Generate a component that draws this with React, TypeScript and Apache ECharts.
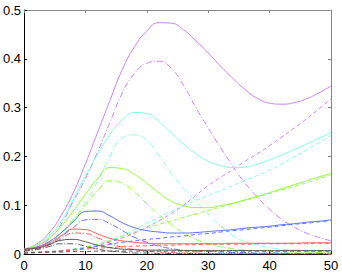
import React, { useEffect, useRef } from "react";
import * as echarts from "echarts";

const xs = [0, 2, 4, 6, 8, 10, 12, 14, 16, 18, 20, 22, 24, 26, 28, 30, 32, 34, 36, 38, 40, 42, 44, 46, 48, 50];

const purpleSolid = [0.010, 0.020, 0.042, 0.078, 0.125, 0.185, 0.250, 0.315, 0.378, 0.425, 0.457, 0.474, 0.473, 0.459, 0.437, 0.412, 0.385, 0.360, 0.337, 0.319, 0.309, 0.307, 0.310, 0.318, 0.330, 0.344];
const purpleDashDot = [0.007, 0.014, 0.030, 0.060, 0.108, 0.155, 0.210, 0.270, 0.330, 0.370, 0.391, 0.395, 0.380, 0.345, 0.300, 0.258, 0.218, 0.180, 0.145, 0.117, 0.092, 0.071, 0.055, 0.043, 0.034, 0.027];
const purpleDashed = [0.003, 0.004, 0.005, 0.007, 0.010, 0.013, 0.018, 0.025, 0.033, 0.043, 0.055, 0.068, 0.083, 0.100, 0.120, 0.140, 0.157, 0.173, 0.190, 0.205, 0.222, 0.240, 0.258, 0.277, 0.297, 0.318];

const cyanSolid = [0.010, 0.018, 0.036, 0.066, 0.112, 0.160, 0.205, 0.245, 0.275, 0.290, 0.288, 0.271, 0.248, 0.225, 0.205, 0.190, 0.181, 0.177, 0.178, 0.184, 0.193, 0.203, 0.214, 0.225, 0.237, 0.249];
const cyanDashDot = [0.007, 0.012, 0.024, 0.043, 0.070, 0.105, 0.150, 0.200, 0.238, 0.244, 0.233, 0.202, 0.165, 0.135, 0.108, 0.082, 0.058, 0.038, 0.025, 0.018, 0.013, 0.010, 0.008, 0.007, 0.006, 0.005];
const cyanDashed = [0.003, 0.004, 0.005, 0.007, 0.010, 0.014, 0.020, 0.028, 0.038, 0.050, 0.063, 0.075, 0.087, 0.099, 0.110, 0.120, 0.130, 0.140, 0.151, 0.161, 0.172, 0.185, 0.199, 0.213, 0.228, 0.244];

const greenSolid = [0.010, 0.017, 0.032, 0.056, 0.088, 0.122, 0.155, 0.177, 0.175, 0.163, 0.145, 0.125, 0.108, 0.099, 0.095, 0.095, 0.099, 0.104, 0.111, 0.118, 0.126, 0.134, 0.142, 0.150, 0.158, 0.165];
const greenDashDot = [0.007, 0.012, 0.024, 0.043, 0.070, 0.100, 0.130, 0.150, 0.145, 0.127, 0.103, 0.080, 0.060, 0.043, 0.030, 0.021, 0.015, 0.011, 0.008, 0.007, 0.006, 0.005, 0.004, 0.004, 0.003, 0.003];
const greenDashed = [0.003, 0.004, 0.005, 0.007, 0.010, 0.014, 0.020, 0.027, 0.036, 0.045, 0.053, 0.061, 0.068, 0.075, 0.082, 0.089, 0.096, 0.103, 0.110, 0.117, 0.124, 0.131, 0.138, 0.146, 0.154, 0.162];

const blueSolid = [0.010, 0.014, 0.025, 0.043, 0.066, 0.087, 0.088, 0.078, 0.064, 0.054, 0.048, 0.045, 0.043, 0.043, 0.044, 0.046, 0.048, 0.050, 0.053, 0.055, 0.057, 0.060, 0.062, 0.065, 0.067, 0.070];
const blueDashDot = [0.007, 0.011, 0.020, 0.035, 0.054, 0.070, 0.071, 0.062, 0.048, 0.034, 0.024, 0.016, 0.011, 0.008, 0.006, 0.005, 0.004, 0.003, 0.003, 0.002, 0.002, 0.002, 0.001, 0.001, 0.001, 0.001];
const blueDashed = [0.002, 0.003, 0.004, 0.006, 0.009, 0.012, 0.016, 0.020, 0.024, 0.027, 0.030, 0.032, 0.035, 0.037, 0.040, 0.042, 0.045, 0.048, 0.050, 0.053, 0.055, 0.058, 0.061, 0.063, 0.066, 0.068];

const redSolid = [0.010, 0.013, 0.022, 0.037, 0.051, 0.050, 0.041, 0.032, 0.027, 0.024, 0.022, 0.021, 0.021, 0.021, 0.021, 0.021, 0.021, 0.022, 0.022, 0.022, 0.022, 0.022, 0.022, 0.023, 0.023, 0.023];
const redDashDot = [0.007, 0.010, 0.018, 0.031, 0.043, 0.042, 0.033, 0.022, 0.014, 0.009, 0.006, 0.004, 0.003, 0.002, 0.002, 0.001, 0.001, 0.001, 0.001, 0.001, 0.001, 0.001, 0.000, 0.000, 0.000, 0.000];
const redDashed = [0.002, 0.003, 0.004, 0.006, 0.008, 0.010, 0.012, 0.013, 0.015, 0.016, 0.017, 0.018, 0.018, 0.019, 0.019, 0.020, 0.020, 0.020, 0.020, 0.021, 0.021, 0.021, 0.021, 0.021, 0.022, 0.022];

const blackSolid = [0.010, 0.012, 0.019, 0.028, 0.030, 0.025, 0.018, 0.013, 0.010, 0.009, 0.008, 0.008, 0.008, 0.007, 0.007, 0.007, 0.007, 0.007, 0.007, 0.007, 0.007, 0.007, 0.007, 0.007, 0.007, 0.007];
const blackDashDot = [0.006, 0.009, 0.015, 0.021, 0.021, 0.016, 0.010, 0.006, 0.004, 0.002, 0.002, 0.001, 0.001, 0.001, 0.001, 0.000, 0.000, 0.000, 0.000, 0.000, 0.000, 0.000, 0.000, 0.000, 0.000, 0.000];
const blackDashed = [0.002, 0.003, 0.004, 0.004, 0.005, 0.005, 0.006, 0.006, 0.006, 0.006, 0.006, 0.006, 0.006, 0.006, 0.006, 0.006, 0.006, 0.006, 0.006, 0.006, 0.006, 0.006, 0.006, 0.006, 0.006, 0.006];

const xTicks = [0, 10, 20, 30, 40, 50];
const yTicks = [0, 0.1, 0.2, 0.3, 0.4, 0.5];

const groups = [
  { color: "#cc80ff", solid: purpleSolid, dashDot: purpleDashDot, dashed: purpleDashed },
  { color: "#80ffdc", solid: cyanSolid, dashDot: cyanDashDot, dashed: cyanDashed },
  { color: "#8cff33", solid: greenSolid, dashDot: greenDashDot, dashed: greenDashed },
  { color: "#5a6eff", solid: blueSolid, dashDot: blueDashDot, dashed: blueDashed },
  { color: "#ff5a5a", solid: redSolid, dashDot: redDashDot, dashed: redDashed },
  { color: "#555555", solid: blackSolid, dashDot: blackDashDot, dashed: blackDashed },
];

const pair = (ys: number[]) => xs.map((x, i) => [x, ys[i]]);

export default function App() {
  const ref = useRef<HTMLDivElement>(null);
  useEffect(() => {
    if (!ref.current) return;
    const chart = echarts.init(ref.current, null, { renderer: "svg" });
    const series: any[] = [];
    groups.forEach((g) => {
      const mk = (ys: number[], type: any) => ({
        type: "line",
        data: pair(ys),
        smooth: 0.5,
        showSymbol: false,
        symbol: "none",
        lineStyle: { color: g.color, width: 1, type },
        silent: true,
      });
      series.push(mk(g.solid, "solid"));
      series.push(mk(g.dashDot, [6, 2, 1, 2]));
      series.push(mk(g.dashed, [4, 3]));
    });
    const labelStyle = { color: "#000", fontFamily: "Liberation Sans, Arial, sans-serif", fontSize: 13 };
    chart.setOption({
      animation: false,
      backgroundColor: "#fff",
      grid: { left: 22, right: 11, top: 10, bottom: 19, containLabel: false },
      xAxis: [
        {
          type: "value", min: xTicks[0], max: xTicks[xTicks.length - 1], interval: 10, position: "bottom",
          axisLine: { show: true, onZero: false, lineStyle: { color: "#000", width: 1 } },
          axisTick: { show: true, inside: true, length: 3, lineStyle: { color: "#000" } },
          axisLabel: { ...labelStyle, margin: 5 },
          splitLine: { show: false },
        },
        {
          type: "value", min: xTicks[0], max: xTicks[xTicks.length - 1], interval: 10, position: "top",
          axisLine: { show: true, onZero: false, lineStyle: { color: "#888", width: 1 } },
          axisTick: { show: true, inside: true, length: 3, lineStyle: { color: "#888" } },
          axisLabel: { show: false },
          splitLine: { show: false },
        },
      ],
      yAxis: [
        {
          type: "value", min: yTicks[0], max: yTicks[yTicks.length - 1], interval: 0.1, position: "left",
          axisLine: { show: true, onZero: false, lineStyle: { color: "#000", width: 1 } },
          axisTick: { show: true, inside: true, length: 3, lineStyle: { color: "#000" } },
          axisLabel: { ...labelStyle, margin: 3, formatter: (v: number) => String(Math.round(v * 10) / 10) },
          splitLine: { show: false },
        },
        {
          type: "value", min: yTicks[0], max: yTicks[yTicks.length - 1], interval: 0.1, position: "right",
          axisLine: { show: true, onZero: false, lineStyle: { color: "#888", width: 1 } },
          axisTick: { show: true, inside: true, length: 3, lineStyle: { color: "#888" } },
          axisLabel: { show: false },
          splitLine: { show: false },
        },
      ],
      series,
    });
    return () => chart.dispose();
  }, []);
  return (
    <div
      ref={ref}
      style={{ position: "fixed", left: 0, top: 0, width: 342, height: 273, background: "#fff" }}
    />
  );
}
